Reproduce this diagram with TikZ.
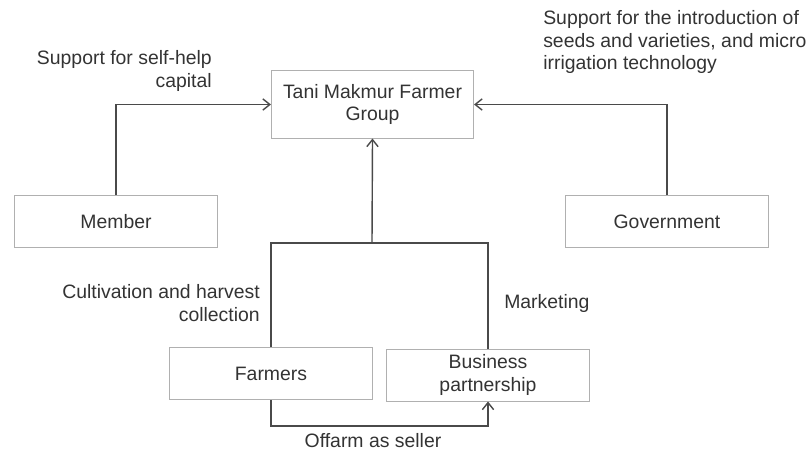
\documentclass[tikz,border=0pt]{standalone}
\usepackage{fontspec}
\setmainfont{Liberation Sans}
\usepackage{xcolor}
\usepackage{tikz}
\usetikzlibrary{arrows.meta}
\usetikzlibrary{positioning}

\definecolor{linegrey}{HTML}{4A4A4A}
\definecolor{boxgrey}{HTML}{B0B0B0}
\definecolor{textgrey}{HTML}{333333}

\begin{document}
\begin{tikzpicture}[
  x=0.025cm, y=-0.025cm,
  font=\fontsize{13.8}{15.8}\selectfont,
  text=textgrey,
  >={Straight Barb[length=5pt,width=8pt]}
]
\tikzset{
    actorbox/.style = {rectangle, draw=boxgrey, line width=0.7pt, align=center, minimum width=5.05cm, minimum height=1.3cm},
    flow/.style = {draw=linegrey, line width=1pt},
    note/.style = {align=left, inner sep=0pt},
}
\useasboundingbox (0,0) rectangle (811,453);
% boxes
\node[actorbox, minimum height=1.675cm] (tani) at (372.5,104.5) {Tani Makmur Farmer\\Group};
\node[actorbox] (member) at (116,221.5) {Member};
\node[actorbox] (gov) at (667,221.5) {Government};
\node[actorbox] (farmers) at (271,373.5) {Farmers};
\node[actorbox] (biz) at (488,375) {Business\\partnership};
% connectors
\coordinate (split) at (372,243);
\draw[flow,->] (member.north) |- (tani.west);
\draw[flow,->] (gov.north) |- (tani.east);
\draw[flow] (farmers.north) |- (split) -| (biz.north);
\draw[flow,->] (split) -- (tani.south);
\draw[flow,->] (farmers.south) -- ++(0,26) -| (biz.south);
% labels
\node[note, align=right, anchor=east] (lselfhelp) at (212,71) {Support for self-help\\capital};
\node[note, anchor=west] (lseeds) at (543,42) {Support for the introduction of\\seeds and varieties, and micro\\irrigation technology};
\node[note, align=right, anchor=east] (lcultiv) at (260,303) {Cultivation and harvest\\collection};
\node[note, anchor=west] (lmarket) at (504,303) {Marketing};
\node[note] (lofffarm) at (373,441) {Offarm as seller};
\end{tikzpicture}
\end{document}
